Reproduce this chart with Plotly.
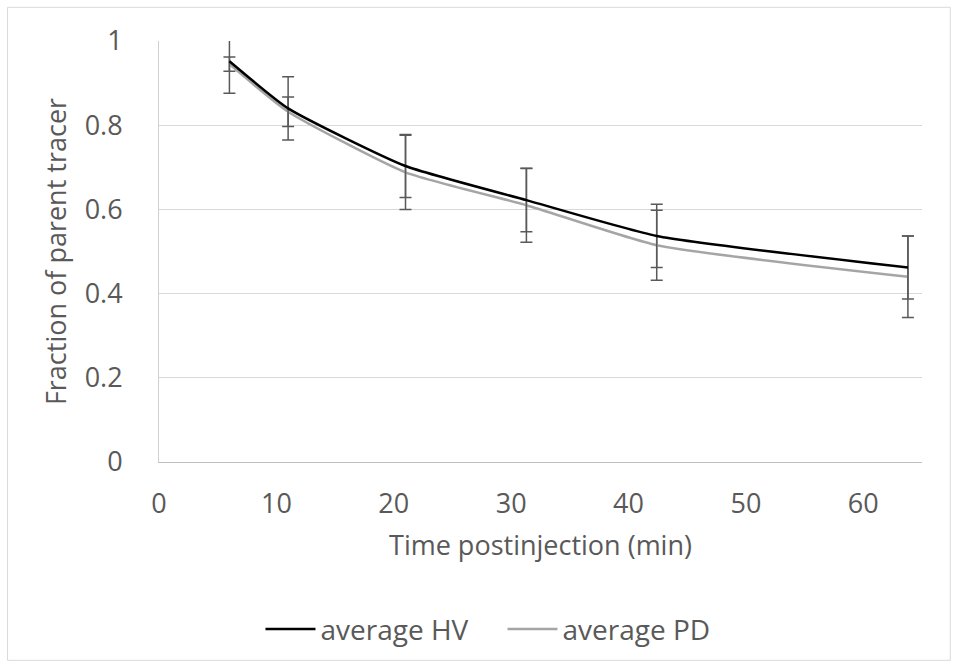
import plotly.graph_objects as go

time_min = [6, 11, 21, 31.3, 42.4, 63.8]
avg_hv = [0.952, 0.840, 0.703, 0.622, 0.537, 0.462]
err_hv = [0.076, 0.075, 0.075, 0.075, 0.075, 0.075]
avg_pd = [0.945, 0.832, 0.688, 0.610, 0.515, 0.440]
err_pd = [0.017, 0.035, 0.088, 0.088, 0.083, 0.097]
x_ticks = [0, 10, 20, 30, 40, 50, 60]
y_ticks = [0, 0.2, 0.4, 0.6, 0.8, 1]

FONT = "Open Sans"
TXT = "#595959"
FS = 27

fig = go.Figure()
fig.add_trace(go.Scatter(
    x=time_min, y=avg_pd, name="average PD", mode="lines",
    line=dict(color="#a5a5a5", width=2.5, shape="spline", smoothing=0.5),
    error_y=dict(type="data", array=err_pd, color="#595959", thickness=1.5, width=6),
))
fig.add_trace(go.Scatter(
    x=time_min, y=avg_hv, name="average HV", mode="lines",
    line=dict(color="#000000", width=2.5, shape="spline", smoothing=0.5),
    error_y=dict(type="data", array=err_hv, color="#595959", thickness=1.5, width=6),
))

L, R, T, B = 158.5, 35.3, 40.7, 204.3
W, H = 957, 666
pw, ph = W - L - R, H - T - B

def px(x):
    return (x - L) / pw

def py(y):
    return (H - B - y) / ph

fig.update_layout(
    width=W, height=H,
    margin=dict(l=L, r=R, t=T, b=B),
    paper_bgcolor="white", plot_bgcolor="white",
    font=dict(family=FONT, color=TXT, size=FS),
    showlegend=True,
    legend=dict(
        orientation="h", x=px(260), y=py(629), xanchor="left", yanchor="middle",
        traceorder="reversed", font=dict(size=28, color=TXT), itemwidth=50,
        entrywidth=177, entrywidthmode="pixels",
        bgcolor="rgba(0,0,0,0)",
    ),
    xaxis=dict(
        range=[0, 65], tickvals=x_ticks, ticktext=[str(v) for v in x_ticks],
        showgrid=False, zeroline=False, showline=True, linecolor="#bfbfbf", linewidth=1,
        ticks="", ticklabelstandoff=18, tickfont=dict(size=FS, color=TXT),
        title=dict(text="Time postinjection (min)", font=dict(size=FS, color=TXT), standoff=15),
    ),
    yaxis=dict(
        range=[0, 1], tickvals=y_ticks, ticktext=["0", "0.2", "0.4", "0.6", "0.8", "1"],
        showgrid=True, gridcolor="#d9d9d9", gridwidth=1, zeroline=False,
        showline=True, linecolor="#d0d0d0", linewidth=1,
        ticks="", ticklabelstandoff=30, tickfont=dict(size=FS, color=TXT),
        title=dict(text="Fraction of parent tracer", font=dict(size=FS, color=TXT), standoff=10),
    ),
    shapes=[dict(
        type="rect", xref="paper", yref="paper",
        x0=px(7), x1=px(950), y0=py(660), y1=py(7),
        line=dict(color="#d9d9d9", width=1), fillcolor="rgba(0,0,0,0)", layer="below",
    )],
)

fig.write_html("out.html")
